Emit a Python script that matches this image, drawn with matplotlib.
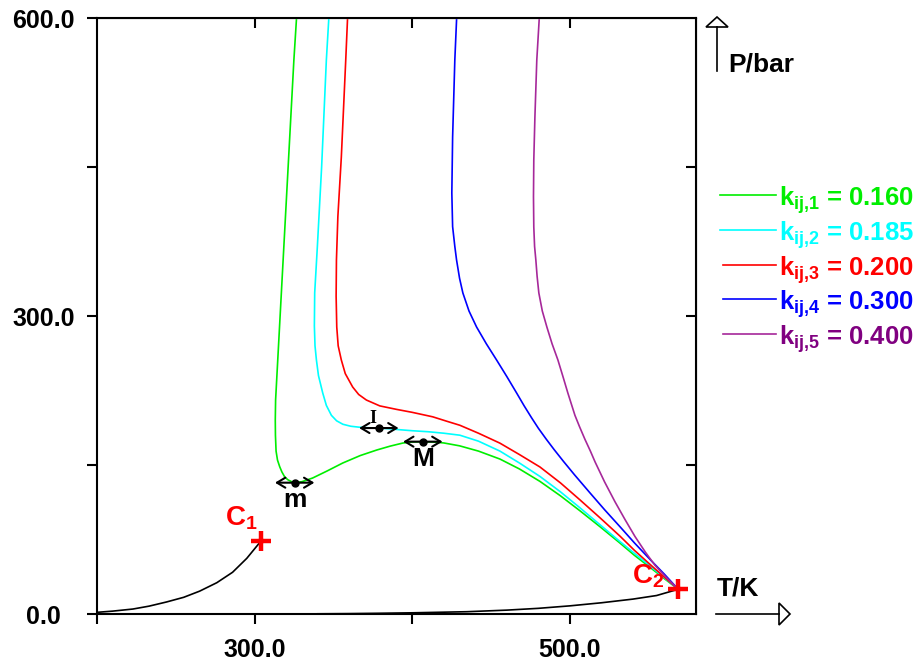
import matplotlib
matplotlib.use("Agg")
import matplotlib.pyplot as plt
from matplotlib.patches import Polygon

plt.rcParams['font.family'] = ['Liberation Sans', 'DejaVu Sans']
plt.rcParams['font.weight'] = 'bold'
plt.rcParams['mathtext.fontset'] = 'custom'
plt.rcParams['mathtext.rm'] = 'Liberation Sans:bold'
plt.rcParams['mathtext.it'] = 'Liberation Sans:bold'
plt.rcParams['mathtext.bf'] = 'Liberation Sans:bold'

# critical lines, T in K and P in bar
t_k1 = [326.5, 324.9, 313.3, 313.1, 313.2, 313.6, 314.5, 315.9, 317.3, 319.0, 321.0, 323.2, 325.4,
        330.0, 336.8, 346.0, 355.9, 367.0, 377.5, 386.0, 394.0, 400.0, 406.7, 413.0, 420.0, 430.0,
        442.0, 455.6, 468.0, 481.0, 494.0, 506.3, 519.0, 531.7, 541.0, 550.8, 560.0, 568.7]
p_k1 = [598.0, 557.7, 215.4, 195.3, 180.0, 164.0, 155.0, 148.3, 143.0, 138.2, 135.2, 133.4, 132.2,
        133.2, 136.9, 144.0, 152.0, 159.5, 165.1, 169.0, 172.1, 173.2, 173.5, 173.2, 172.2, 169.3,
        164.0, 156.0, 146.0, 133.5, 119.0, 104.0, 88.0, 71.5, 59.0, 47.0, 35.5, 24.9]

t_k2 = [347.0, 345.5, 342.5, 339.8, 338.1, 337.9, 338.3, 339.2, 340.5, 343.2, 345.5, 348.7, 352.0,
        356.0, 361.0, 366.7, 372.0, 378.8, 385.0, 392.1, 400.0, 410.0, 420.0, 430.2, 442.0, 455.6,
        468.0, 481.0, 494.0, 506.3, 519.0, 531.7, 541.0, 550.8, 560.0, 568.7]
p_k2 = [598.0, 557.7, 450.0, 370.0, 323.2, 290.0, 270.0, 255.7, 240.0, 222.5, 210.0, 200.0, 194.5,
        191.0, 189.0, 188.0, 187.5, 187.2, 186.5, 185.5, 184.5, 183.5, 182.0, 180.0, 174.0, 164.0,
        152.0, 138.5, 123.0, 107.0, 90.0, 73.0, 61.0, 48.5, 36.5, 24.9]

t_k3 = [358.9, 357.8, 355.0, 352.8, 351.9, 351.7, 352.1, 353.0, 355.0, 357.5, 362.2, 366.0, 370.9,
        379.4, 390.0, 400.0, 413.0, 422.0, 430.2, 442.0, 455.6, 468.0, 481.0, 494.0, 506.3, 519.0,
        531.7, 541.0, 550.8, 560.0, 568.7]
p_k3 = [598.0, 557.7, 460.0, 400.0, 356.4, 320.0, 288.9, 270.0, 255.7, 242.0, 228.5, 221.0, 215.4,
        209.5, 206.0, 203.0, 198.5, 194.0, 190.0, 182.0, 172.0, 160.5, 148.0, 132.0, 115.0, 97.0,
        78.5, 64.0, 50.0, 37.0, 24.9]

t_k4 = [428.1, 427.0, 425.6, 425.1, 425.6, 427.0, 428.1, 430.0, 432.1, 436.0, 440.8, 447.0, 453.5,
        460.0, 466.2, 471.0, 475.7, 480.0, 485.0, 490.0, 496.0, 503.0, 512.7, 522.0, 531.7, 541.0,
        550.8, 560.0, 568.7]
p_k4 = [598.0, 557.7, 480.0, 423.8, 390.0, 370.0, 356.4, 338.0, 323.2, 305.0, 288.9, 272.0, 255.7,
        239.0, 222.5, 209.5, 197.5, 187.0, 176.0, 165.5, 153.5, 140.0, 122.0, 105.0, 88.0, 71.5,
        55.0, 40.0, 24.9]

t_k5 = [480.5, 479.0, 477.8, 477.1, 476.9, 477.1, 477.6, 478.4, 479.2, 480.3, 482.5, 485.4, 488.7,
        492.4, 495.6, 498.7, 501.0, 503.2, 506.0, 509.5, 513.0, 516.0, 522.0, 528.6, 535.0, 541.3,
        548.0, 554.0, 561.0, 568.7]
p_k5 = [598.0, 557.7, 500.0, 457.0, 420.0, 389.6, 370.0, 356.4, 340.0, 323.2, 305.0, 288.9, 272.0,
        255.7, 239.0, 222.5, 211.0, 200.0, 189.0, 176.0, 164.0, 153.0, 133.0, 113.0, 95.0, 78.0,
        62.0, 49.0, 37.0, 24.9]

# vapour pressure curves of the pure components
t_vp1 = [200.2, 210.0, 222.8, 233.0, 244.1, 255.0, 265.1, 276.0, 286.0, 295.0, 304.2]
p_vp1 = [1.7, 2.9, 5.0, 7.9, 12.1, 16.8, 23.0, 31.5, 42.0, 56.0, 73.8]
t_vp2 = [340.0, 360.0, 377.5, 400.0, 434.6, 460.0, 480.0, 500.0, 520.0, 540.0, 555.0, 568.7]
p_vp2 = [0.2, 0.4, 0.7, 1.2, 2.3, 3.9, 5.7, 8.2, 11.3, 15.0, 18.6, 24.9]

# critical points and special points
t_crit = [304.2, 568.7]
p_crit = [73.8, 24.9]
crit_names = ['C$_1$', 'C$_2$']
t_special = [325.4, 378.8, 406.7]
p_special = [132.2, 187.2, 173.5]
special_names = ['m', 'I', 'M']

kij = ['0.160', '0.185', '0.200', '0.300', '0.400']
line_colors = ['#00ee00', '#00ffff', '#ff0000', '#0000ff', '#a6289a']
text_colors = ['#00ee00', '#00ffff', '#ff0000', '#0000ff', '#800080']

W, H = 920, 666


def px(x, y):
    # pixel position (from top left) to figure fraction
    return x / W, 1 - y / H


fig = plt.figure(figsize=(W / 100, H / 100), dpi=100)
ax = fig.add_axes([97 / W, 1 - 614 / H, 599 / W, 596 / H])

curves = [(t_k1, p_k1), (t_k2, p_k2), (t_k3, p_k3), (t_k4, p_k4), (t_k5, p_k5)]
for (t, p), c in zip(curves, line_colors):
    ax.plot(t, p, color=c, lw=1.2)

ax.plot(t_vp1, p_vp1, color='black', lw=1.2)
ax.plot(t_vp2, p_vp2, color='black', lw=1.2)

ax.plot(t_crit, p_crit, '+', color='red', ms=15, mew=3.2, zorder=5)
ax.text(t_crit[0] - 2, p_crit[0] + 9, crit_names[0], color='red', fontsize=20, ha='right', va='bottom')
ax.text(t_crit[1] - 9, p_crit[1] - 1, crit_names[1], color='red', fontsize=20, ha='right', va='bottom')

# points m, I, M with horizontal double arrows
for t, p in zip(t_special, p_special):
    ax.annotate('', xy=(t - 12.5, p), xytext=(t + 12.5, p),
                arrowprops=dict(arrowstyle='<->, head_length=0.5, head_width=0.3', color='black',
                                lw=1.5, mutation_scale=12, shrinkA=0, shrinkB=0))
    ax.plot(t, p, 'o', color='black', ms=5, zorder=6)
ax.text(t_special[0], p_special[0] - 5, special_names[0], fontsize=19, ha='center', va='top')
ax.text(t_special[1] - 4, p_special[1] + 1, special_names[1], fontsize=13, ha='center', va='bottom',
        family='Liberation Serif')
ax.text(t_special[2], p_special[2] - 5, special_names[2], fontsize=19, ha='center', va='top')

ax.set_xlim(200, 580)
ax.set_ylim(0, 600)

ax.set_xticks([200, 300, 400, 500])
ax.set_xticklabels(['', '300.0', '', '500.0'])
ax.set_yticks([0, 150, 300, 450, 600])
ax.set_yticklabels(['0.0', '', '300.0', '', '600.0'])
ax.tick_params(axis='both', direction='out', length=7.5, width=1.5, labelsize=18)
ax.tick_params(axis='x', pad=10)
ax.tick_params(axis='y', pad=31)
for lab in ax.get_yticklabels():
    lab.set_horizontalalignment('center')
for s in ax.spines.values():
    s.set_linewidth(1.5)

# inward ticks on top and right
ax_top = ax.secondary_xaxis('top')
ax_top.set_xticks([300, 400, 500])
ax_top.tick_params(direction='in', length=7.5, width=1.5, labeltop=False)
ax_right = ax.secondary_yaxis('right')
ax_right.set_yticks([150, 300, 450])
ax_right.tick_params(direction='in', length=7.5, width=1.5, labelright=False)

# axis arrows
fig.add_artist(plt.Line2D([716 / W, 779 / W], [1 - 614 / H, 1 - 614 / H], color='black', lw=1.2))
fig.add_artist(Polygon([px(779, 603), px(790, 614), px(779, 625)], closed=True,
                       facecolor='white', edgecolor='black', lw=1.2))
fig.add_artist(plt.Line2D([717 / W, 717 / W], [1 - 71 / H, 1 - 27 / H], color='black', lw=1.2))
fig.add_artist(Polygon([px(706, 27), px(717, 17), px(728, 27)], closed=True,
                       facecolor='white', edgecolor='black', lw=1.2))
fig.text(*px(717, 596), 'T/K', fontsize=19, ha='left', va='baseline')
fig.text(*px(728, 71), 'P/bar', fontsize=19, ha='left', va='baseline')

# legend
leg_y = [195, 230, 265, 299, 334]
for i in range(5):
    x0 = 720 if i < 2 else 723
    fig.add_artist(plt.Line2D([x0 / W, 776 / W], [1 - leg_y[i] / H] * 2, color=line_colors[i], lw=1.2))
    fig.text(*px(779, leg_y[i] + 11), '$k_{ij{,}%d}$ = %s' % (i + 1, kij[i]),
             color=text_colors[i], fontsize=18.5, ha='left', va='baseline')

fig.savefig('out.png', dpi=100)
